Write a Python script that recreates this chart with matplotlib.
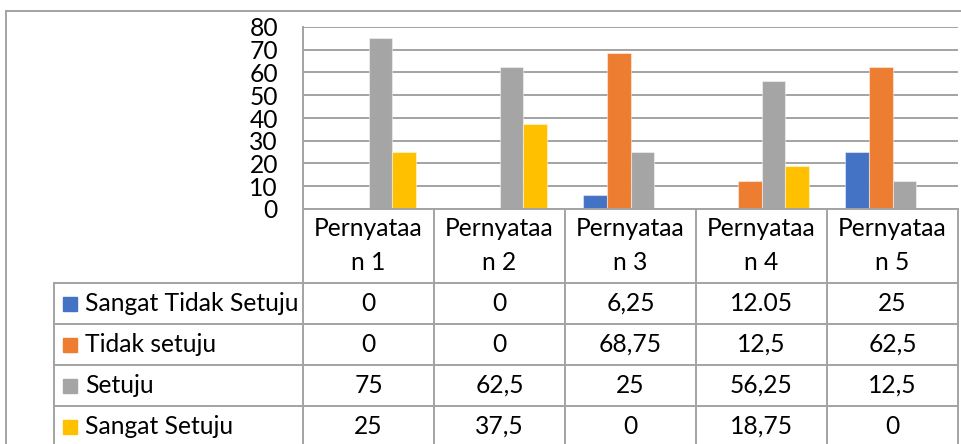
import matplotlib
matplotlib.use("Agg")
import matplotlib.pyplot as plt
from matplotlib.lines import Line2D
from matplotlib.patches import Rectangle
import numpy as np

# data
categories = ["Pernyataan 1", "Pernyataan 2", "Pernyataan 3", "Pernyataan 4", "Pernyataan 5"]
series_names = ["Sangat Tidak Setuju", "Tidak setuju", "Setuju", "Sangat Setuju"]
sangat_tidak_setuju = [0, 0, 6.25, 0.2, 25]   # "12.05" is stored as text, bar sits at ~0
tidak_setuju = [0, 0, 68.75, 12.5, 62.5]
setuju = [75, 62.5, 25, 56.25, 12.5]
sangat_setuju = [25, 37.5, 0, 18.75, 0]
table_labels = [
    ["0", "0", "6,25", "12.05", "25"],
    ["0", "0", "68,75", "12,5", "62,5"],
    ["75", "62,5", "25", "56,25", "12,5"],
    ["25", "37,5", "0", "18,75", "0"],
]
colors = ["#4472C4", "#ED7D31", "#A5A5A5", "#FFC000"]

plt.rcParams['font.family'] = ['Lato', 'DejaVu Sans']
FS = 17.7
GRID = "#A3A3A3"
LW = 1.4

W, H = 961, 444
fig = plt.figure(figsize=(W / 100, H / 100), dpi=100)

# plot area in pixels
L, R, T, B = 303, 958, 27, 209
ax = fig.add_axes([L / W, 1 - B / H, (R - L) / W, (B - T) / H])

values = [sangat_tidak_setuju, tidak_setuju, setuju, sangat_setuju]
x = np.arange(len(categories))
bw = 0.18
for i, (vals, c) in enumerate(zip(values, colors)):
    ax.bar(x + (i - 1.5) * bw, vals, width=bw, color=c,
           edgecolor=(1, 1, 1, 0.45), linewidth=0.8, zorder=3)

ax.set_xlim(-0.5, len(categories) - 0.5)
ax.set_ylim(0, 80)
ax.set_yticks(range(0, 81, 10))
ax.yaxis.grid(True, color=GRID, linewidth=LW, zorder=0)
ax.set_xticks([])
ax.tick_params(axis='y', length=0, pad=18, labelsize=FS)
for s in ["top", "right", "bottom"]:
    ax.spines[s].set_visible(False)
ax.spines["left"].set_color(GRID)
ax.spines["left"].set_linewidth(LW)


def fx(px):
    return px / W


def fy(py):
    return 1 - py / H


def hline(x0, x1, y):
    fig.add_artist(Line2D([fx(x0), fx(x1)], [fy(y), fy(y)], color=GRID, lw=LW,
                          transform=fig.transFigure))


def vline(xp, y0, y1):
    fig.add_artist(Line2D([fx(xp), fx(xp)], [fy(y0), fy(y1)], color=GRID, lw=LW,
                          transform=fig.transFigure))


# outer chart border
hline(6, W + 5, 11)
vline(6, 11, H + 5)

# data table
col_w = (R - L) / len(categories)
legend_left = 54
header_bottom = 283
row_h = 41
row_tops = [header_bottom + k * row_h for k in range(len(series_names))]

hline(L, R, B)
for yt in row_tops:
    hline(legend_left, R, yt)
vline(legend_left, header_bottom, H + 5)
for k in range(len(categories) + 1):
    vline(L + k * col_w, B, H + 5)

for j, cat in enumerate(categories):
    cx = L + (j + 0.5) * col_w
    first, second = cat[:-3], cat[-3:]
    fig.text(fx(cx), fy(229), first, ha='center', va='center', fontsize=FS)
    fig.text(fx(cx), fy(263), second, ha='center', va='center', fontsize=FS)

for i, name in enumerate(series_names):
    cy = row_tops[i] + row_h / 2
    fig.add_artist(Rectangle((fx(63), fy(cy + 7)), fx(14), 14 / H, color=colors[i],
                             transform=fig.transFigure))
    fig.text(fx(85), fy(cy), name, ha='left', va='center', fontsize=FS)
    for j in range(len(categories)):
        cx = L + (j + 0.5) * col_w
        fig.text(fx(cx), fy(cy), table_labels[i][j], ha='center', va='center', fontsize=FS)

fig.savefig("out.png", dpi=100)
